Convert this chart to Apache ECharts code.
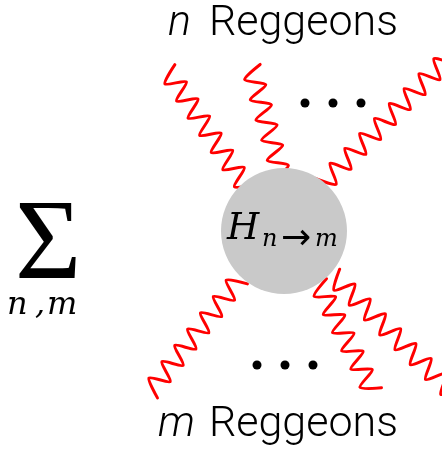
<!DOCTYPE html>
<html>
<head>
<meta charset="utf-8">
<script src="https://cdn.jsdelivr.net/npm/echarts@6/dist/echarts.min.js"></script>
<style>
  html, body { margin: 0; padding: 0; background: #fff; }
  #chart { width: 442px; height: 453px; }
</style>
</head>
<body>
<div id="chart"></div>
<script>
// diagram units: one unit = one pixel of the frame, y grows downwards
// each reggeon: [x start, y start, x end, y end]
const reggeonsIn = [
  [167, 70, 248, 190],
  [251, 67, 282, 178],
  [448, 58, 322, 185]
];
const reggeonsOut = [
  [240, 278, 150, 392],
  [318, 283, 373, 392],
  [333, 276, 455, 395]
];
const blob = [[284, 231]];
const dotsTop = [[305, 103], [333, 103], [361, 103]];
const dotsBottom = [[257, 365], [285, 365], [313, 365]];

const AMP = 9.5;
const HALF = 10.5;

// zigzag drawn between the two ends of a reggeon
const wavy = (params, api) => {
  const a = api.coord([api.value(0), api.value(1)]);
  const b = api.coord([api.value(2), api.value(3)]);
  const dx = b[0] - a[0], dy = b[1] - a[1];
  const len = Math.hypot(dx, dy);
  const ux = dx / len, uy = dy / len;
  const nx = -uy, ny = ux;
  const steps = Math.max(2, Math.round(len / HALF));
  const pts = [];
  for (let k = 0; k <= steps; k++) {
    const t = k * len / steps;
    const s = (k % 2 ? 1 : -1) * AMP;
    pts.push([a[0] + ux * t + nx * s, a[1] + uy * t + ny * s]);
  }
  return {
    type: 'polyline',
    shape: { points: pts, smooth: 0.25 },
    style: { stroke: '#ff0000', lineWidth: 3, fill: 'none', lineJoin: 'round', lineCap: 'round' }
  };
};

const chart = echarts.init(document.getElementById('chart'));

const mathFont = 'italic 37px "DejaVu Serif"';
const subFont = 'italic 24px "DejaVu Serif"';
const sumSubFont = 'italic 32px "DejaVu Serif"';
const sansFont = '300 43px Roboto';
const sansItalic = 'italic 300 43px Roboto';

const option = {
  animation: false,
  grid: { left: 0, right: 0, top: 0, bottom: 0 },
  xAxis: { type: 'value', min: 0, max: 442, show: false },
  yAxis: { type: 'value', min: 0, max: 453, inverse: true, show: false },
  series: [
    {
      type: 'custom',
      renderItem: wavy,
      encode: { x: [0, 2], y: [1, 3] },
      data: reggeonsIn,
      z: 2
    },
    {
      type: 'custom',
      renderItem: wavy,
      encode: { x: [0, 2], y: [1, 3] },
      data: reggeonsOut,
      z: 2
    },
    {
      type: 'scatter',
      data: blob,
      symbolSize: 126,
      itemStyle: { color: '#c9c9c9', opacity: 1 },
      z: 3
    },
    {
      type: 'scatter',
      data: dotsTop.concat(dotsBottom),
      symbolSize: 9,
      itemStyle: { color: '#000', opacity: 1 },
      z: 3
    }
  ],
  graphic: [
    { type: 'text', x: 168, y: 24, z: 10, style: { text: 'n', font: sansItalic, fill: '#000', align: 'left', verticalAlign: 'middle' } },
    { type: 'text', x: 398, y: 24, z: 10, style: { text: 'Reggeons', font: sansFont, fill: '#000', align: 'right', verticalAlign: 'middle' } },
    { type: 'text', x: 158, y: 425, z: 10, style: { text: 'm', font: sansItalic, fill: '#000', align: 'left', verticalAlign: 'middle' } },
    { type: 'text', x: 398, y: 425, z: 10, style: { text: 'Reggeons', font: sansFont, fill: '#000', align: 'right', verticalAlign: 'middle' } },
    { type: 'text', x: 227, y: 229, z: 10, style: { text: 'H', font: mathFont, fill: '#000', align: 'left', verticalAlign: 'middle' } },
    { type: 'text', x: 262, y: 240, z: 10, style: { text: 'n', font: subFont, fill: '#000', align: 'left', verticalAlign: 'middle' } },
    { type: 'text', x: 296, y: 240, z: 10, style: { text: '→', font: '36px "DejaVu Sans"', fill: '#000', align: 'center', verticalAlign: 'middle' } },
    { type: 'text', x: 315, y: 240, z: 10, style: { text: 'm', font: subFont, fill: '#000', align: 'left', verticalAlign: 'middle' } },
    { type: 'text', x: 15, y: 248, z: 10, style: { text: 'Σ', font: '114px "Liberation Serif"', fill: '#000', align: 'left', verticalAlign: 'middle' } },
    { type: 'text', x: 7, y: 306, z: 10, style: { text: 'n', font: sumSubFont, fill: '#000', align: 'left', verticalAlign: 'middle' } },
    { type: 'text', x: 35, y: 306, z: 10, style: { text: ',', font: sumSubFont, fill: '#000', align: 'left', verticalAlign: 'middle' } },
    { type: 'text', x: 47, y: 306, z: 10, style: { text: 'm', font: sumSubFont, fill: '#000', align: 'left', verticalAlign: 'middle' } }
  ]
};

chart.setOption(option);
</script>
</body>
</html>
